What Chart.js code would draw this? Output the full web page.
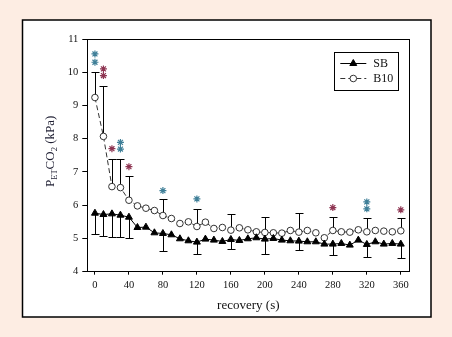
<!DOCTYPE html>
<html>
<head>
<meta charset="utf-8">
<script src="https://cdn.jsdelivr.net/npm/chart.js@4/dist/chart.umd.min.js"></script>
<style>
  html, body { margin: 0; padding: 0; background: #fdede3; }
  #wrap { width: 452px; height: 337px; }
</style>
</head>
<body>
<div id="wrap"><canvas id="chart" width="452" height="337"></canvas></div>
<script>
// recovery time (s)
const times = [0, 10, 20, 30, 40, 50, 60, 70, 80, 90, 100, 110, 120, 130, 140, 150, 160, 170, 180,
    190, 200, 210, 220, 230, 240, 250, 260, 270, 280, 290, 300, 310, 320, 330, 340, 350, 360];
const sbValues = [5.76, 5.72, 5.74, 5.70, 5.64, 5.33, 5.34, 5.17, 5.15, 5.11, 4.99, 4.93, 4.89, 4.98,
    4.95, 4.91, 4.97, 4.94, 4.99, 5.02, 4.98, 5.00, 4.95, 4.93, 4.92, 4.90, 4.90, 4.83, 4.83, 4.85,
    4.80, 4.95, 4.82, 4.90, 4.83, 4.85, 4.83];
const b10Values = [9.24, 8.07, 6.56, 6.53, 6.15, 5.98, 5.91, 5.84, 5.69, 5.60, 5.45, 5.50, 5.36, 5.49,
    5.30, 5.33, 5.25, 5.32, 5.26, 5.20, 5.18, 5.17, 5.16, 5.24, 5.19, 5.24, 5.17, 5.02, 5.24, 5.20,
    5.19, 5.26, 5.20, 5.24, 5.22, 5.20, 5.23];

// error bars (B10 upward, SB downward)
const errTimes = [0, 10, 20, 30, 40, 80, 120, 160, 200, 240, 280, 320, 360];
const b10Upper = [10.02, 9.60, 7.39, 7.39, 6.88, 6.18, 5.88, 5.73, 5.66, 5.76, 5.66, 5.61, 5.61];
const sbLower = [5.13, 5.07, 5.04, 5.05, 5.00, 4.62, 4.53, 4.69, 4.53, 4.65, 4.50, 4.43, 4.40];

// significance asterisks, two groups
const sigATimes = [0, 0, 30, 30, 80, 120, 320, 320];
const sigAValues = [10.55, 10.30, 7.89, 7.69, 6.44, 6.19, 6.10, 5.89];
const sigBTimes = [10, 10, 20, 40, 280, 360];
const sigBValues = [10.10, 9.90, 7.70, 7.16, 5.93, 5.86];

const xTicks = [0, 40, 80, 120, 160, 200, 240, 280, 320, 360];
const yTicks = [4, 5, 6, 7, 8, 9, 10, 11];

const serif = 'Liberation Serif';

function pairs(xs, ys) {
    return xs.map((x, i) => ({ x: x, y: ys[i] }));
}

// white panel with border behind the chart
const panelPlugin = {
    id: 'panel',
    beforeDraw(chart) {
        const ctx = chart.ctx;
        ctx.save();
        ctx.fillStyle = '#fdede3';
        ctx.fillRect(0, 0, chart.width, chart.height);
        ctx.fillStyle = '#ffffff';
        ctx.fillRect(22.5, 20, 408.5, 297);
        ctx.strokeStyle = '#000';
        ctx.lineWidth = 1.5;
        ctx.strokeRect(22.5, 20, 408.5, 297);
        ctx.restore();
    }
};

// error bars, drawn under the markers
const errorBarPlugin = {
    id: 'errorBars',
    beforeDatasetsDraw(chart) {
        const ctx = chart.ctx;
        const xs = chart.scales.x, ys = chart.scales.y;
        const cap = 4;
        ctx.save();
        ctx.strokeStyle = '#000';
        ctx.lineWidth = 1;
        errTimes.forEach((t, i) => {
            const idx = times.indexOf(t);
            const px = Math.round(xs.getPixelForValue(t)) + 0.5;
            [[b10Values[idx], b10Upper[i]], [sbValues[idx], sbLower[i]]].forEach(([from, to]) => {
                const y0 = ys.getPixelForValue(from);
                const y1 = Math.round(ys.getPixelForValue(to)) + 0.5;
                ctx.beginPath();
                ctx.moveTo(px, y0);
                ctx.lineTo(px, y1);
                ctx.moveTo(px - cap, y1);
                ctx.lineTo(px + cap, y1);
                ctx.stroke();
            });
        });
        ctx.restore();
    }
};

// frame on top/right, y title with subscripts, boxed legend
const decorPlugin = {
    id: 'decor',
    afterDraw(chart) {
        const ctx = chart.ctx;
        const a = chart.chartArea;
        ctx.save();
        ctx.strokeStyle = '#000';
        ctx.lineWidth = 1;
        ctx.beginPath();
        ctx.moveTo(a.left, Math.round(a.top) + 0.5);
        ctx.lineTo(a.right, Math.round(a.top) + 0.5);
        ctx.moveTo(Math.round(a.right) + 0.5, a.top);
        ctx.lineTo(Math.round(a.right) + 0.5, a.bottom);
        ctx.stroke();

        // y axis title: P_ET CO_2 (kPa)
        const parts = [['P', 13, 0], ['ET', 8.5, 3], ['CO', 13, 0], ['2', 8.5, 3], [' (kPa)', 13, 0]];
        let total = 0;
        parts.forEach(p => {
            ctx.font = p[1] + 'px "' + serif + '"';
            p.push(ctx.measureText(p[0]).width);
            total += p[3];
        });
        ctx.translate(54, (a.top + a.bottom) / 2 - 4);
        ctx.rotate(-Math.PI / 2);
        ctx.fillStyle = '#1c1c30';
        ctx.textBaseline = 'alphabetic';
        let cx = -total / 2;
        parts.forEach(p => {
            ctx.font = p[1] + 'px "' + serif + '"';
            ctx.fillText(p[0], cx, p[2]);
            cx += p[3];
        });
        ctx.setTransform(1, 0, 0, 1, 0, 0);

        // legend box
        const bx = a.right - 75, by = a.top + 12.5, bw = 64, bh = 38;
        ctx.fillStyle = '#fff';
        ctx.fillRect(bx, by, bw, bh);
        ctx.strokeRect(Math.round(bx) + 0.5, Math.round(by) + 0.5, bw, bh);
        const rows = [chart.data.datasets[0], chart.data.datasets[1]];
        rows.forEach((ds, i) => {
            const ly = Math.round(by + 11.5 + i * 15) + 0.5;
            const lx0 = bx + 6, lx1 = bx + 32, mx = (lx0 + lx1) / 2;
            ctx.strokeStyle = ds.borderColor;
            ctx.lineWidth = 1;
            ctx.setLineDash(ds.borderDash || []);
            ctx.beginPath();
            ctx.moveTo(lx0, ly);
            ctx.lineTo(lx1, ly);
            ctx.stroke();
            ctx.setLineDash([]);
            ctx.fillStyle = ds.pointBackgroundColor;
            ctx.strokeStyle = ds.pointBorderColor;
            ctx.lineWidth = ds.pointBorderWidth;
            Chart.helpers.drawPoint(ctx, {
                pointStyle: ds.pointStyle,
                radius: ds.pointRadius,
                borderWidth: ds.pointBorderWidth,
                rotation: 0
            }, mx, ly);
            ctx.fillStyle = '#111';
            ctx.font = '12px "' + serif + '"';
            ctx.textBaseline = 'middle';
            ctx.fillText(ds.label, bx + 39, ly + 0.5);
        });
        ctx.restore();
    }
};

new Chart(document.getElementById('chart'), {
    type: 'line',
    data: {
        datasets: [
            {
                label: 'SB',
                data: pairs(times, sbValues),
                borderColor: '#000',
                borderWidth: 1,
                pointStyle: 'triangle',
                pointRadius: 4,
                pointBorderWidth: 1,
                pointBackgroundColor: '#000',
                pointBorderColor: '#000'
            },
            {
                label: 'B10',
                data: pairs(times, b10Values),
                borderColor: '#333',
                borderWidth: 1,
                borderDash: [5, 3],
                pointStyle: 'circle',
                pointRadius: 3.3,
                pointBorderWidth: 1,
                pointBackgroundColor: '#fff',
                pointBorderColor: '#333'
            },
            {
                label: 'sigA',
                data: pairs(sigATimes, sigAValues),
                showLine: false,
                pointStyle: 'star',
                pointRadius: 3.5,
                pointBorderWidth: 1.2,
                pointBorderColor: '#3f7f98',
                pointBackgroundColor: '#3f7f98'
            },
            {
                label: 'sigB',
                data: pairs(sigBTimes, sigBValues),
                showLine: false,
                pointStyle: 'star',
                pointRadius: 3.5,
                pointBorderWidth: 1.2,
                pointBorderColor: '#8e3552',
                pointBackgroundColor: '#8e3552'
            }
        ]
    },
    options: {
        responsive: false,
        animation: false,
        events: [],
        layout: { padding: { left: 57.3, right: 42.7, top: 39, bottom: 23.3 } },
        plugins: {
            legend: { display: false },
            tooltip: { enabled: false }
        },
        scales: {
            x: {
                type: 'linear',
                min: -9,
                max: 370,
                afterBuildTicks: s => { s.ticks = xTicks.map(v => ({ value: v })); },
                afterFit: s => { s.height = 42; },
                grid: { drawOnChartArea: false, drawTicks: true, tickLength: 3, color: '#000' },
                border: { display: true, color: '#000', width: 1 },
                ticks: { color: '#111', padding: 4, maxRotation: 0, font: { family: serif, size: 10.5 } },
                title: {
                    display: true,
                    text: 'recovery (s)',
                    color: '#111',
                    padding: 0,
                    font: { family: serif, size: 13 }
                }
            },
            y: {
                min: 4,
                max: 11,
                afterBuildTicks: s => { s.ticks = yTicks.map(v => ({ value: v })); },
                afterFit: s => { s.width = 30; },
                grid: { drawOnChartArea: false, drawTicks: true, tickLength: 5, color: '#000' },
                border: { display: true, color: '#000', width: 1 },
                ticks: { color: '#111', padding: 4, font: { family: serif, size: 10.5 } }
            }
        }
    },
    plugins: [panelPlugin, errorBarPlugin, decorPlugin]
});
</script>
</body>
</html>
